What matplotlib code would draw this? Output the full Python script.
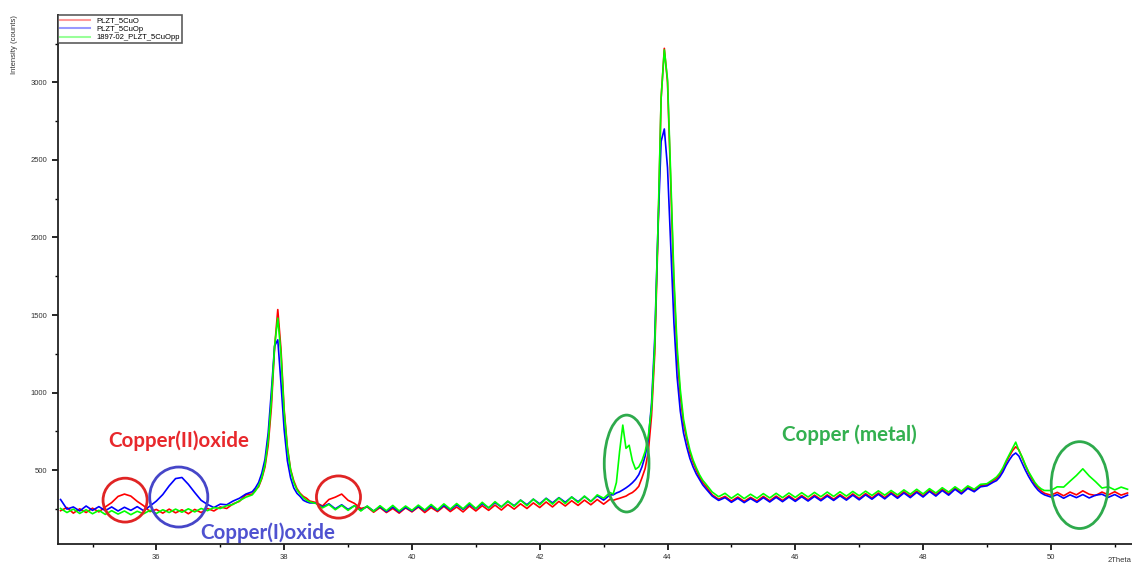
import numpy as np
import matplotlib
matplotlib.use('Agg')
import matplotlib.pyplot as plt
from matplotlib.patches import Ellipse

plt.rcParams['font.family'] = ['Liberation Sans', 'DejaVu Sans']

# 2Theta sampling (finer around the peaks)
two_theta = np.round(np.concatenate([
    np.arange(34.5, 37.45, 0.1),    # 30
    np.arange(37.5, 38.42, 0.05),   # 19
    np.arange(38.5, 43.15, 0.1),    # 47
    np.arange(43.15, 44.62, 0.05),  # 30
    np.arange(44.7, 49.15, 0.1),    # 45
    np.arange(49.15, 49.92, 0.05),  # 16
    np.arange(50.0, 51.25, 0.1),    # 13
]), 2)

cuo = [  # PLZT_5CuO
    238, 258, 222, 250, 226, 254, 230, 262, 290, 330, 345, 332, 298, 270, 232,
    246, 222, 248, 224, 244, 218, 246, 226, 252, 236, 262, 252, 282, 298, 340,
    345, 372, 392, 445, 520, 660, 905, 1290, 1535, 1280, 890, 650, 505, 430, 380,
    350, 330, 318, 300,
    290, 268, 310, 325, 345, 305, 285, 252, 262, 228, 258, 226, 252, 222, 256,
    230, 262, 226, 258, 232, 266, 232, 262, 230, 268, 236, 270, 240, 274, 242,
    278, 248, 282, 252, 288, 258, 294, 262, 298, 268, 302, 272, 306, 276, 310,
    280, 312,
    305, 312, 318, 325, 332, 345, 355, 372, 395, 450, 510, 620, 850, 1250, 2000,
    2900, 3220, 3000, 2350, 1700, 1250, 980, 800, 700, 610, 550, 500, 455, 420, 395,
    340, 312, 330, 300, 326, 298, 324, 300, 330, 302, 332, 304, 334, 306, 336,
    308, 338, 310, 340, 312, 342, 314, 346, 316, 348, 320, 352, 322, 356, 326,
    360, 330, 364, 334, 370, 340, 376, 346, 384, 354, 390, 368, 400, 405, 432,
    445, 470, 505, 550, 590, 625, 650, 630, 580, 530, 485, 445, 410, 385, 365, 350,
    338, 356, 334, 358, 340, 366, 344, 336, 358, 340, 360, 338, 352,
]

cuo_p = [  # PLZT_5CuOp
    310, 248, 262, 236, 268, 240, 264, 238, 262, 236, 260, 240, 264, 238, 268,
    300, 342, 398, 445, 452, 408, 355, 305, 278, 258, 280, 276, 300, 318, 345,
    360, 385, 420, 480, 570, 740, 1010, 1300, 1340, 1060, 760, 560, 450, 385, 350,
    330, 305, 295, 288,
    288, 262, 282, 250, 276, 246, 270, 240, 266, 236, 264, 232, 262, 230, 260,
    236, 266, 238, 270, 240, 272, 244, 276, 246, 280, 250, 284, 256, 290, 262,
    298, 270, 306, 276, 312, 282, 318, 288, 322, 292, 326, 296, 330, 298, 334,
    306, 340,
    340, 352, 360, 372, 385, 400, 418, 440, 470, 520, 590, 700, 930, 1350, 2050,
    2620, 2700, 2450, 1950, 1450, 1100, 880, 740, 650, 575, 520, 475, 440, 405, 380,
    332, 304, 322, 292, 318, 290, 316, 292, 322, 294, 324, 296, 326, 298, 328,
    300, 330, 302, 332, 304, 334, 306, 338, 308, 340, 312, 344, 314, 348, 318,
    352, 322, 356, 326, 362, 332, 368, 338, 376, 346, 382, 360, 392, 398, 422,
    432, 455, 488, 530, 565, 595, 610, 590, 545, 500, 460, 425, 395, 370, 352, 340,
    326, 342, 318, 340, 322, 342, 320, 338, 344, 324, 342, 320, 338,
]

cuo_pp = [  # 1897-02_PLZT_5CuOpp
    252, 226, 248, 220, 244, 218, 240, 214, 238, 216, 236, 212, 234, 218, 240,
    220, 244, 226, 248, 228, 250, 230, 252, 238, 258, 252, 270, 278, 302, 325,
    340, 365, 398, 450, 535, 690, 950, 1300, 1480, 1250, 870, 640, 500, 420, 372,
    345, 322, 305, 295,
    284, 256, 278, 244, 272, 240, 270, 236, 268, 234, 270, 238, 272, 236, 268,
    240, 274, 242, 278, 244, 282, 248, 284, 250, 288, 252, 292, 256, 296, 262,
    300, 266, 306, 270, 312, 276, 316, 280, 320, 284, 326, 290, 332, 296, 340,
    318, 355,
    345, 420, 620, 790, 640, 660, 560, 505, 520, 560, 620, 720, 900, 1300, 2050,
    2900, 3210, 3020, 2400, 1750, 1300, 1020, 830, 720, 630, 565, 515, 470, 435, 410,
    358, 328, 350, 318, 346, 316, 344, 318, 348, 320, 350, 322, 352, 324, 354,
    326, 356, 328, 358, 330, 360, 332, 362, 334, 364, 336, 366, 338, 368, 340,
    372, 344, 376, 346, 380, 352, 386, 358, 392, 364, 398, 376, 408, 412, 440,
    455, 480, 515, 560, 600, 640, 680, 625, 585, 535, 490, 455, 420, 395, 378, 368,
    368, 392, 390, 428, 465, 508, 462, 425, 384, 392, 372, 390, 376,
]

labels = ['PLZT_5CuO', 'PLZT_5CuOp', '1897-02_PLZT_5CuOpp']
colors = ['#ff0000', '#0000ff', '#00ff00']

fig = plt.figure(figsize=(11.32, 5.64), dpi=100)
ax = fig.add_axes([58 / 1132, 20 / 564, 1 - 58 / 1132, (544 - 15) / 564])

for y, lab, c in zip([cuo, cuo_p, cuo_pp], labels, colors):
    ax.plot(two_theta, y, color=c, lw=1.2, label=lab)

ax.set_xlim(34.46, 51.27)
ax.set_ylim(23, 3435)
ax.set_xticks([36, 38, 40, 42, 44, 46, 48, 50])
ax.set_xticks([35, 37, 39, 41, 43, 45, 47, 49, 51], minor=True)
ax.set_yticks([500, 1000, 1500, 2000, 2500, 3000])
ax.set_yticks([250, 750, 1250, 1750, 2250, 2750, 3250], minor=True)
ax.tick_params(labelsize=5.5, labelcolor='#333333', length=4, width=1.2)
ax.tick_params(which='minor', length=2.5, width=1)
for s in ['top', 'right']:
    ax.spines[s].set_visible(False)
for s in ['left', 'bottom']:
    ax.spines[s].set_linewidth(1.3)
    ax.spines[s].set_color('#222222')

leg = ax.legend(loc='upper left', fontsize=5.5, frameon=True, fancybox=False,
                borderaxespad=0, handlelength=4.0, labelspacing=0.15,
                borderpad=0.25)
leg.get_frame().set_edgecolor('#333333')
leg.get_frame().set_linewidth(1.2)
for h in leg.get_lines():
    h.set_alpha(0.4)
    h.set_linewidth(1.5)

fig.text(15 / 1132, 1 - 15 / 564, 'Intensity (counts)', rotation=90,
         fontsize=5.5, va='top', ha='center', color='#333333')
fig.text(1108 / 1132, 0.0, '2Theta', fontsize=5.5, color='#333333',
         va='bottom', ha='left')

# phase markers
ells = [(35.51, 306, 0.69, 283, '#e02424'),
        (36.35, 326, 0.91, 387, '#4646c8'),
        (38.85, 326, 0.69, 272, '#e02424'),
        (43.36, 542, 0.70, 625, '#2eaa4c'),
        (50.45, 403, 0.89, 560, '#2eaa4c')]
for cx, cy, w, h, c in ells:
    ax.add_patch(Ellipse((cx, cy), w, h, fill=False, edgecolor=c, lw=2.0,
                         zorder=5))

ax.text(35.24, 689, 'Copper(II)oxide', color='#e8282c', fontsize=14.8,
        fontweight='bold', family='Lato', va='center', ha='left')
ax.text(36.68, 96, 'Copper(I)oxide', color='#4f52d0', fontsize=14.8,
        fontweight='bold', family='Lato', va='center', ha='left')
ax.text(45.79, 725, 'Copper (metal)', color='#33b050', fontsize=14.8,
        fontweight='bold', family='Lato', va='center', ha='left')

fig.savefig('out.png', dpi=100)
